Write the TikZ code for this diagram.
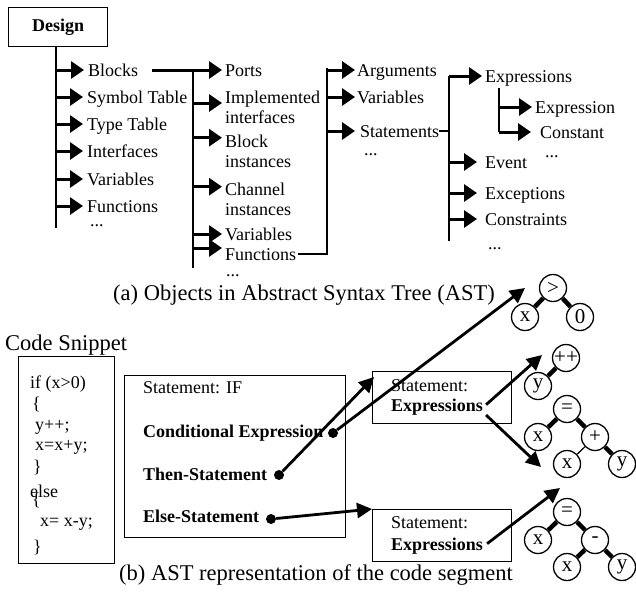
\documentclass[tikz,border=0pt]{standalone}
\usepackage{fontspec}
\setmainfont{Liberation Serif}
\usetikzlibrary{arrows.meta}
\usetikzlibrary{positioning}

\tikzset{
  item/.style={anchor=west, inner sep=0pt, text height=12pt, text depth=0pt},
  item2/.style={anchor=north west, inner sep=0pt, align=left},
  txt/.style={anchor=base west, inner sep=0pt},
  arr/.style={-{Triangle[length=13pt,width=17pt]}, line width=3pt, shorten >=3pt},
  arr2/.style={-{Triangle[length=15pt,width=15pt]}, line width=2.8pt},
  trunk/.style={line width=2pt},
  conn/.style={line width=1.2pt},
  box/.style={draw, rectangle, line width=1.3pt, inner sep=0pt},
  bullet/.style={circle, fill, inner sep=0pt, minimum size=10pt},
  op/.style={circle, draw, line width=1.3pt, minimum size=27pt, inner sep=0pt, font=\fontsize{21}{22}\selectfont},
  tedge/.style={line width=4.5pt},
  capt/.style={anchor=base, inner sep=0pt, font=\fontsize{22.5}{26}\selectfont}
}

\begin{document}
\begin{tikzpicture}[x=1pt, y=-1pt, font=\fontsize{18}{20}\selectfont]
        \useasboundingbox (0,0) rectangle (636,597);
        % (a) objects of the tree
        \node[box, minimum width=99pt, minimum height=39pt, anchor=north west, font=\bfseries\fontsize{18}{20}\selectfont] (design) at (8,7) {Design};
        \coordinate (t1) at (56,46);
        \draw[trunk] (t1) -- (56,228);
        \node[item] (blocks) at (88,70) {Blocks};
        \node[item] (symtab) at (87,97) {Symbol Table};
        \node[item] (typetab) at (87,124) {Type Table};
        \node[item] (ifaces) at (87,151) {Interfaces};
        \node[item] (vars1) at (87,179) {Variables};
        \node[item] (funcs1) at (87,206) {Functions};
        \node[txt] (more1) at (90,226) {...};
        \draw[arr, shorten >=4pt] (t1 |- blocks.west) -- (blocks.west);
        \draw[arr, shorten >=4pt] (t1 |- symtab.west) -- (symtab.west);
        \draw[arr, shorten >=4pt] (t1 |- typetab.west) -- (typetab.west);
        \draw[arr, shorten >=4pt] (t1 |- ifaces.west) -- (ifaces.west);
        \draw[arr, shorten >=4pt] (t1 |- vars1.west) -- (vars1.west);
        \draw[arr, shorten >=4pt] (t1 |- funcs1.west) -- (funcs1.west);

        \coordinate (t2) at (193,70);
        \draw[trunk] (t2) -- (193,268);
        \node[item] (ports) at (225,70) {Ports};
        \node[item2] (impl) at (225,90.7) {Implemented\\interfaces};
        \node[item2] (blockinst) at (225,134.7) {Block\\instances};
        \node[item2] (chaninst) at (225,182.7) {Channel\\instances};
        \node[item] (vars2) at (225,234) {Variables};
        \node[item] (funcs2) at (225,254) {Functions};
        \node[txt] (more2) at (226,276) {...};
        \draw[arr, shorten <=14pt] (blocks.east) -- (ports.west);
        \draw[arr] ([yshift=-12.3pt]t2 |- impl.north west) -- ([yshift=-12.3pt]impl.north west);
        \draw[arr] ([yshift=-3pt]t2 |- blockinst.north west) -- ([yshift=-3pt]blockinst.north west);
        \draw[arr] ([yshift=-4pt]t2 |- chaninst.north west) -- ([yshift=-4pt]chaninst.north west);
        \draw[arr] (t2 |- vars2.west) -- (vars2.west);
        \draw[arr] ([yshift=6pt]t2 |- funcs2.west) -- ([yshift=6pt]funcs2.west);

        \coordinate (t3) at (327,68);
        \draw[conn, shorten <=2pt] (funcs2.east) -| (t3);
        \draw[trunk] (t3) -- (t3 |- funcs2.east);
        \node[item] (args) at (357,70) {Arguments};
        \node[item] (vars3) at (357,97) {Variables};
        \node[item] (stmts) at (360,131) {Statements};
        \node[txt] (more3) at (364,155) {...};
        \draw[arr, shorten >=2pt] (t3 |- args.west) -- (args.west);
        \draw[arr, shorten >=2pt] (t3 |- vars3.west) -- (vars3.west);
        \draw[arr, shorten >=5pt] (t3 |- stmts.west) -- (stmts.west);

        \coordinate (t4) at (449,76);
        \draw[conn] (stmts.east) -- (t4 |- stmts.east);
        \draw[trunk] (t4) -- (449,241);
        \node[item] (exprs) at (485,76) {Expressions};
        \node[item] (event) at (485,162) {Event};
        \node[item] (excepts) at (485,193) {Exceptions};
        \node[item] (constr) at (485,219) {Constraints};
        \node[txt] (more4) at (488,249) {...};
        \draw[arr] (t4 |- exprs.west) -- (exprs.west);
        \draw[arr, shorten >=8pt] (t4 |- event.west) -- (event.west);
        \draw[arr, shorten >=8pt] (t4 |- excepts.west) -- (excepts.west);
        \draw[arr, shorten >=8pt] (t4 |- constr.west) -- (constr.west);

        \coordinate (t5) at (499,88);
        \node[item] (expr) at (535,107) {Expression};
        \node[item] (const) at (540,132) {Constant};
        \node[txt] (more5) at (545,157) {...};
        \draw[trunk] (t5) -- (t5 |- const.west);
        \draw[arr] (t5 |- expr.west) -- (expr.west);
        \draw[arr, shorten >=9pt] (t5 |- const.west) -- (const.west);

        \node[capt] (capa) at (304,300) {(a) Objects in Abstract Syntax Tree (AST)};

        % (b) the code segment and its tree
        \node[txt, font=\fontsize{22.5}{26}\selectfont] (snip) at (5,350) {Code Snippet};
        \node[box, minimum width=96pt, minimum height=207pt, anchor=north west] (codebox) at (18,356) {};
        \foreach \i/\yy/\xx/\ln in {1/388/30/{if (x>0)}, 2/409/32/\{, 3/430/35/{y++;}, 4/450/35/{x=x+y;}, 5/472/33/\}, 6/497/30/else, 7/505/32/\{, 8/526/40/{x= x-y;}, 9/552/33/\}}
          \node[txt] (code\i) at (\xx,\yy) {\ln};

        \node[box, minimum width=221pt, minimum height=162pt, anchor=north west] (ifbox) at (124,375) {};
        \node[txt] (stif) at (143,393) {Statement: IF};
        \node[txt, font=\bfseries\fontsize{18}{20}\selectfont] (cond) at (143,437) {Conditional Expression};
        \node[txt, font=\bfseries\fontsize{18}{20}\selectfont] (thenst) at (143,480) {Then-Statement};
        \node[txt, font=\bfseries\fontsize{18}{20}\selectfont] (elsest) at (143,522) {Else-Statement};
        \node[bullet] (conddot) at (333,433) {};
        \node[bullet] (thendot) at (279,475) {};
        \node[bullet] (elsedot) at (271,519) {};

        \node[box, minimum width=139pt, minimum height=52pt, anchor=north west] (stA) at (372,371) {};
        \node[txt] (stAa) at (391,391) {Statement:};
        \node[txt, font=\bfseries\fontsize{18}{20}\selectfont] (exprA) at (391,411) {Expressions};
        \node[box, minimum width=139pt, minimum height=52pt, anchor=north west] (stB) at (372,509) {};
        \node[txt] (stBa) at (391,528) {Statement:};
        \node[txt, font=\bfseries\fontsize{18}{20}\selectfont] (exprB) at (391,550) {Expressions};

        \node[op] (gt) at (553,288) {>};
        \node[op] (xa) at (525,317) {x};
        \node[op] (zero) at (580,317) {0};
        \node[op] (incr) at (566,358) {++};
        \node[op] (ya) at (538,386) {y};
        \node[op] (eqa) at (567,409) {=};
        \node[op] (xb) at (538,437) {x};
        \node[op] (plus) at (595,437) {+};
        \node[op] (xc) at (567,464) {x};
        \node[op] (yb) at (622,464) {y};
        \node[op] (eqb) at (567,512) {=};
        \node[op] (xd) at (538,540) {x};
        \node[op] (minus) at (595,540) {-};
        \node[op] (xe) at (567,567) {x};
        \node[op] (yc) at (622,567) {y};
        \draw[tedge] (gt) -- (xa);
        \draw[tedge] (gt) -- (zero);
        \draw[tedge] (incr) -- (ya);
        \draw[tedge] (eqa) -- (xb);
        \draw[tedge] (eqa) -- (plus);
        \draw[conn] (plus) -- (xc);
        \draw[tedge] (plus) -- (yb);
        \draw[tedge] (eqb) -- (xd);
        \draw[tedge] (eqb) -- (minus);
        \draw[tedge] (minus) -- (xe);
        \draw[tedge] (minus) -- (yc);

        \coordinate (tipA) at (374,377);
        \coordinate (tipB) at (525,288);
        \coordinate (tipC) at (542,355);
        \coordinate (tipD) at (541,467);
        \coordinate (tipE) at (560,488);
        \draw[arr2] (thendot) -- (tipA);
        \draw[arr2] (conddot) -- (tipB);
        \draw[arr2] (elsedot) -- (stB.north west);
        \draw[arr2] ([shift={(3pt,2pt)}]exprA.east) -- (tipC);
        \draw[arr2] ([xshift=3pt]exprA.south east) -- (tipD);
        \draw[arr2] ([shift={(4pt,2pt)}]exprB.east) -- (tipE);

        \node[capt] (capb) at (316,580) {(b) AST representation of the code segment};
    \end{tikzpicture}
\end{document}
